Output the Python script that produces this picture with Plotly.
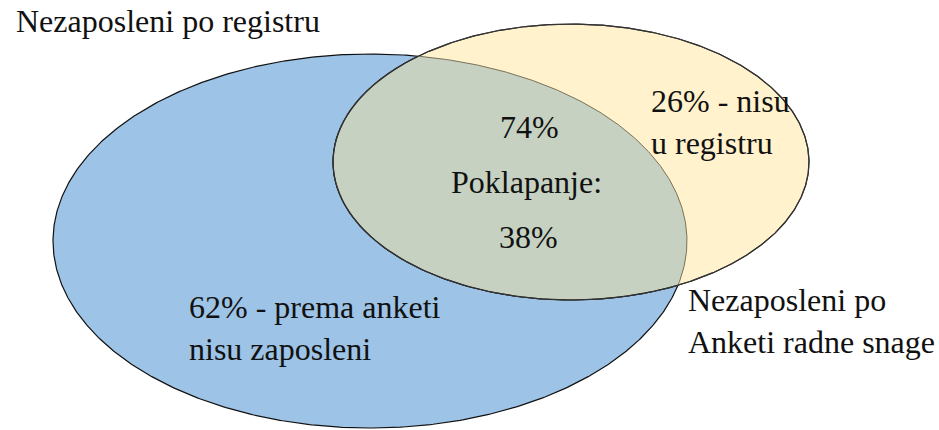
import numpy as np
import plotly.graph_objects as go

# --- data -------------------------------------------------------------
set_names = ["Nezaposleni po registru", "Nezaposleni po<br>Anketi radne snage"]
region_labels = ["62% - prema anketi<br>nisu zaposleni", "26% - nisu<br>u registru"]
overlap_labels = ["74%", "Poklapanje:", "38%"]

# ellipse geometry (centre x, centre y, radius x, radius y) in plot units
blue_ellipse = [370, 241, 317, 187]
yellow_ellipse = [571, 162, 238, 138]

BLUE = "#9DC3E6"
YELLOW = "#FFF2CC"
OVERLAP = "#C6D1C1"
FONT = "Liberation Serif"

t = np.linspace(0, 2 * np.pi, 721)


def ell(p):
    cx, cy, rx, ry = p
    return cx + rx * np.cos(t), cy + ry * np.sin(t)


def inside(p, x, y):
    cx, cy, rx, ry = p
    return ((x - cx) / rx) ** 2 + ((y - cy) / ry) ** 2 <= 1


def arc_inside(a, b):
    x, y = ell(a)
    x, y = x[:-1], y[:-1]
    m = inside(b, x, y)
    start = np.where(m & ~np.roll(m, 1))[0][0]
    x, y, m = np.roll(x, -start), np.roll(y, -start), np.roll(m, -start)
    return x[m], y[m]


bx, by = ell(blue_ellipse)
yx, yy = ell(yellow_ellipse)
ax1, ay1 = arc_inside(yellow_ellipse, blue_ellipse)
ax2, ay2 = arc_inside(blue_ellipse, yellow_ellipse)
ox = np.concatenate([ax1, ax2, ax1[:1]])
oy = np.concatenate([ay1, ay2, ay1[:1]])

fig = go.Figure()
fig.add_trace(go.Scatter(x=bx, y=by, mode="lines", fill="toself", fillcolor=BLUE,
                         line=dict(color="#111111", width=1.2), hoverinfo="skip"))
fig.add_trace(go.Scatter(x=yx, y=yy, mode="lines", fill="toself", fillcolor=YELLOW,
                         line=dict(color="#333333", width=1.2), hoverinfo="skip"))
fig.add_trace(go.Scatter(x=ox, y=oy, mode="none", fill="toself", fillcolor=OVERLAP,
                         hoverinfo="skip"))
fig.add_trace(go.Scatter(x=ax1, y=ay1, mode="lines",
                         line=dict(color="#222222", width=1.2), hoverinfo="skip"))
fig.add_trace(go.Scatter(x=ax2, y=ay2, mode="lines",
                         line=dict(color="#7a7258", width=1), hoverinfo="skip"))
fig.add_trace(go.Scatter(x=yx, y=yy, mode="lines",
                         line=dict(color="#333333", width=1.2), hoverinfo="skip"))

font = dict(family=FONT, size=32, color="#111111")
ann = [
    dict(x=15, y=21, text=set_names[0], xanchor="left", yanchor="middle", align="left"),
    dict(x=687, y=321, text=set_names[1], xanchor="left", yanchor="middle", align="left"),
    dict(x=188, y=328, text=region_labels[0], xanchor="left", yanchor="middle", align="left"),
    dict(x=650, y=122, text=region_labels[1], xanchor="left", yanchor="middle", align="left"),
    dict(x=529, y=127, text=overlap_labels[0], xanchor="center", yanchor="middle"),
    dict(x=526, y=182, text=overlap_labels[1], xanchor="center", yanchor="middle"),
    dict(x=528, y=237, text=overlap_labels[2], xanchor="center", yanchor="middle"),
]
for a in ann:
    fig.add_annotation(**a, xref="x", yref="y", showarrow=False, font=font, borderpad=0)

fig.update_layout(
    width=939, height=430,
    margin=dict(l=0, r=0, t=0, b=0),
    paper_bgcolor="white", plot_bgcolor="white",
    showlegend=False,
    xaxis=dict(range=[0, 939], visible=False, fixedrange=True),
    yaxis=dict(range=[430, 0], visible=False, fixedrange=True),
)
fig.write_html("out.html", config={"displayModeBar": False},
               post_script="document.body.style.margin='0';document.body.style.overflow='hidden';")
